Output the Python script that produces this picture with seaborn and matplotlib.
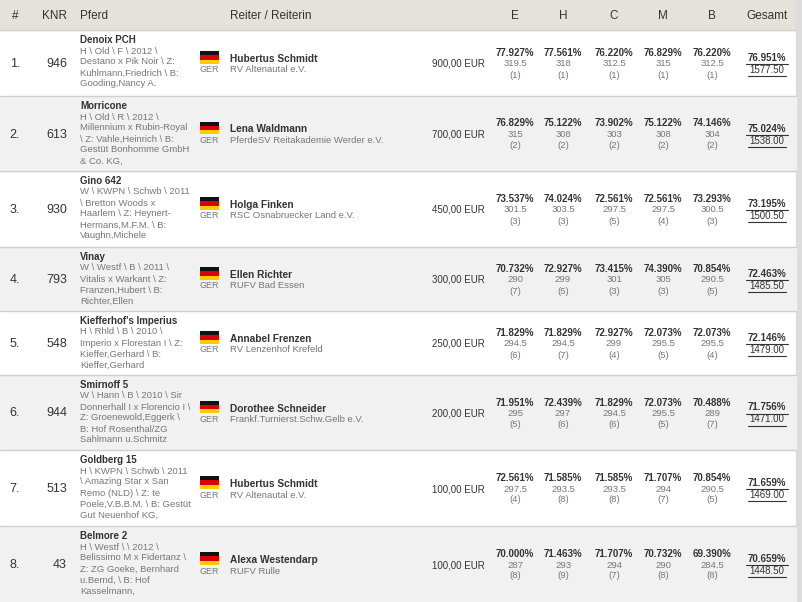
import numpy as np
import matplotlib.pyplot as plt
import seaborn as sns

ranks = ["1.", "2.", "3.", "4.", "5.", "6.", "7.", "8."]
knr = [946, 613, 930, 793, 548, 944, 513, 43]
horses = ["Denoix PCH", "Morricone", "Gino 642", "Vinay", "Kiefferhof's Imperius",
          "Smirnoff 5", "Goldberg 15", "Belmore 2"]
horse_info = [
    ["H \\ Old \\ F \\ 2012 \\", "Destano x Pik Noir \\ Z:", "Kuhlmann,Friedrich \\ B:", "Gooding,Nancy A."],
    ["H \\ Old \\ R \\ 2012 \\", "Millennium x Rubin-Royal", "\\ Z: Vahle,Heinrich \\ B:", "Gestüt Bonhomme GmbH", "& Co. KG,"],
    ["W \\ KWPN \\ Schwb \\ 2011", "\\ Bretton Woods x", "Haarlem \\ Z: Heynert-", "Hermans,M.F.M. \\ B:", "Vaughn,Michele"],
    ["W \\ Westf \\ B \\ 2011 \\", "Vitalis x Warkant \\ Z:", "Franzen,Hubert \\ B:", "Richter,Ellen"],
    ["H \\ Rhld \\ B \\ 2010 \\", "Imperio x Florestan I \\ Z:", "Kieffer,Gerhard \\ B:", "Kieffer,Gerhard"],
    ["W \\ Hann \\ B \\ 2010 \\ Sir", "Donnerhall I x Florencio I \\", "Z: Groenewold,Eggerk \\", "B: Hof Rosenthal/ZG", "Sahlmann u.Schmitz"],
    ["H \\ KWPN \\ Schwb \\ 2011", "\\ Amazing Star x San", "Remo (NLD) \\ Z: te", "Poele,V.B.B.M. \\ B: Gestüt", "Gut Neuenhof KG,"],
    ["H \\ Westf \\ \\ 2012 \\", "Belissimo M x Fidertanz \\", "Z: ZG Goeke, Bernhard", "u.Bernd, \\ B: Hof", "Kasselmann,"],
]
riders = ["Hubertus Schmidt", "Lena Waldmann", "Holga Finken", "Ellen Richter",
          "Annabel Frenzen", "Dorothee Schneider", "Hubertus Schmidt", "Alexa Westendarp"]
clubs = ["RV Altenautal e.V.", "PferdeSV Reitakademie Werder e.V.", "RSC Osnabruecker Land e.V.",
         "RUFV Bad Essen", "RV Lenzenhof Krefeld", "Frankf.Turnierst.Schw.Gelb e.V.",
         "RV Altenautal e.V.", "RUFV Rulle"]
prize = ["900,00 EUR", "700,00 EUR", "450,00 EUR", "300,00 EUR",
         "250,00 EUR", "200,00 EUR", "100,00 EUR", "100,00 EUR"]
judges = ["E", "H", "C", "M", "B"]
pct = [
    ["77.927", "77.561", "76.220", "76.829", "76.220"],
    ["76.829", "75.122", "73.902", "75.122", "74.146"],
    ["73.537", "74.024", "72.561", "72.561", "73.293"],
    ["70.732", "72.927", "73.415", "74.390", "70.854"],
    ["71.829", "71.829", "72.927", "72.073", "72.073"],
    ["71.951", "72.439", "71.829", "72.073", "70.488"],
    ["72.561", "71.585", "71.585", "71.707", "70.854"],
    ["70.000", "71.463", "71.707", "70.732", "69.390"],
]
scores = [
    ["319.5", "318", "312.5", "315", "312.5"],
    ["315", "308", "303", "308", "304"],
    ["301.5", "303.5", "297.5", "297.5", "300.5"],
    ["290", "299", "301", "305", "290.5"],
    ["294.5", "294.5", "299", "295.5", "295.5"],
    ["295", "297", "294.5", "295.5", "289"],
    ["297.5", "293.5", "293.5", "294", "290.5"],
    ["287", "293", "294", "290", "284.5"],
]
places = [
    [1, 1, 1, 1, 1], [2, 2, 2, 2, 2], [3, 3, 5, 4, 3], [7, 5, 3, 3, 5],
    [6, 7, 4, 5, 4], [5, 6, 6, 5, 7], [4, 8, 8, 7, 5], [8, 9, 7, 8, 8],
]
total_pct = ["76.951", "75.024", "73.195", "72.463", "72.146", "71.756", "71.659", "70.659"]
total_score = ["1577.50", "1538.00", "1500.50", "1485.50", "1479.00", "1471.00", "1469.00", "1448.50"]

sns.set_theme(style="white")
plt.rcParams["font.family"] = "Liberation Sans"

W, H = 803, 602
fig = plt.figure(figsize=(W / 100, H / 100), dpi=100)
ax = fig.add_axes([0, 0, 1, 1])
ax.set_xlim(0, W)
ax.set_ylim(H, 0)
ax.axis("off")

row_edges = [30, 96, 171, 247, 311, 375, 450, 526, 602]
dark, grey = "#333333", "#777777"
judge_x = [515, 563, 614, 663, 712]

# header
ax.axhspan(0, 30, color="#e5e2db", zorder=0)
ax.axvspan(796, W, color="#dcdcdc", zorder=0)
hy = 16
for x, t, ha in [(15, "#", "center"), (67, "KNR", "right"), (80, "Pferd", "left"),
                 (230, "Reiter / Reiterin", "left"), (767, "Gesamt", "center")]:
    ax.text(x, hy, t, ha=ha, va="center", fontsize=8.5, color=dark)
for x, j in zip(judge_x, judges):
    ax.text(x, hy, j, ha="center", va="center", fontsize=8.5, color=dark)

for i in range(len(ranks)):
    top, bot = row_edges[i], row_edges[i + 1]
    cy = (top + bot) / 2 + 1
    if i % 2 == 1:
        ax.axhspan(top, bot, xmax=796 / W, color="#f1f1f1", zorder=0)
    ax.axhline(top, xmax=796 / W, color="#d0d0d0", lw=1)

    ax.text(15, cy, ranks[i], ha="center", va="center", fontsize=9, color=dark)
    ax.text(67, cy, str(knr[i]), ha="right", va="center", fontsize=9, color=dark)

    ty = top + 10
    ax.text(80, ty, horses[i], ha="left", va="center", fontsize=7, weight="bold", color=dark)
    for k, line in enumerate(horse_info[i]):
        ax.text(80, ty + 11 * (k + 1), line, ha="left", va="center", fontsize=6.8, color=grey)

    # flag
    for s, c in enumerate(["#111111", "#dd0000", "#ffcc00"]):
        ax.add_patch(plt.Rectangle((200, cy - 13 + s * 4.3), 19, 4.3, color=c, lw=0))
    ax.text(209.5, cy + 6, "GER", ha="center", va="center", fontsize=6.5, color=grey)

    ax.text(230, cy - 5, riders[i], ha="left", va="center", fontsize=7.3, weight="bold", color=dark)
    ax.text(230, cy + 6, clubs[i], ha="left", va="center", fontsize=6.8, color=grey)
    ax.text(485, cy, prize[i], ha="right", va="center", fontsize=7, color=dark)

    for j, x in enumerate(judge_x):
        ax.text(x, cy - 11, pct[i][j] + "%", ha="center", va="center", fontsize=7, weight="bold", color=dark)
        ax.text(x, cy, scores[i][j], ha="center", va="center", fontsize=6.8, color=grey)
        ax.text(x, cy + 11, "(%d)" % places[i][j], ha="center", va="center", fontsize=6.8, color=grey)

    ax.text(767, cy - 6, total_pct[i] + "%", ha="center", va="center", fontsize=7, weight="bold", color=dark)
    ax.text(767, cy + 6, total_score[i], ha="center", va="center", fontsize=7, color=dark)
    ax.plot([746, 788], [cy, cy], color=dark, lw=0.8)
    ax.plot([748, 786], [cy + 12, cy + 12], color=dark, lw=0.8)

fig.savefig("out.png", dpi=100)
